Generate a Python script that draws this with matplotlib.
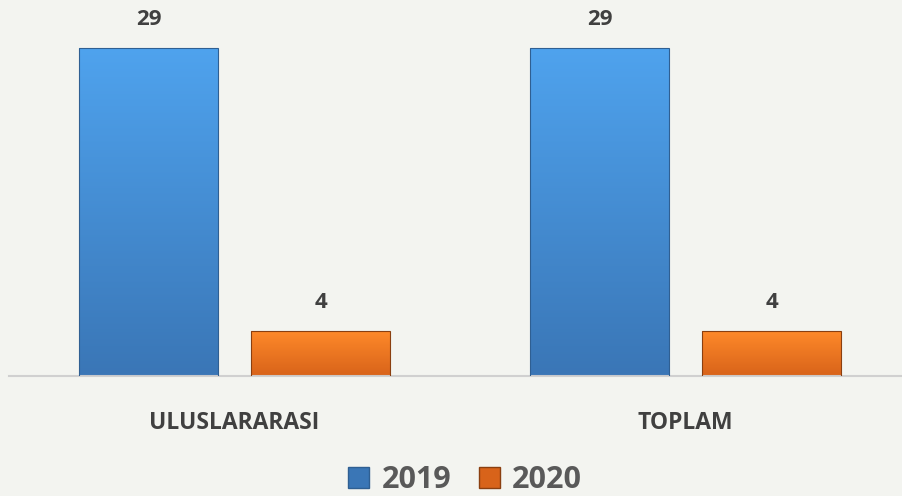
import numpy as np
import matplotlib
matplotlib.use('Agg')
import matplotlib.pyplot as plt
from matplotlib.patches import Patch
from matplotlib.colors import LinearSegmentedColormap

# chart data
categories = ['ULUSLARARASI', 'TOPLAM']
years = ['2019', '2020']
values_2019 = [29, 29]
values_2020 = [4, 4]

plt.rcParams['font.family'] = ['Open Sans', 'DejaVu Sans']

bg = '#f3f4f0'
text_color = '#404040'
fills = {'2019': ('#4fa3ee', '#3a76b6', '#2f5f92'),
         '2020': ('#ff8a2a', '#d8631a', '#8a3f10')}

fig = plt.figure(figsize=(9.03, 4.96), dpi=100, facecolor=bg)
ax = fig.add_axes([0.01, 0.2419, 0.99, 0.7581])
ax.set_facecolor(bg)

x = np.arange(len(categories))
width = 0.308
offset = 0.1907

def gradient_bars(bars, top, bottom):
    cmap = LinearSegmentedColormap.from_list('g', [bottom, top])
    grad = np.linspace(0, 1, 256).reshape(-1, 1)
    for b in bars:
        x0, y0 = b.get_x(), b.get_y()
        im = ax.imshow(grad, cmap=cmap, origin='lower', aspect='auto',
                       extent=[x0, x0 + b.get_width(), y0, y0 + b.get_height()],
                       zorder=2.5)
        im.set_clip_path(b)

bars1 = ax.bar(x - offset, values_2019, width, color=fills['2019'][1],
               edgecolor=fills['2019'][2], linewidth=0.8, zorder=2)
bars2 = ax.bar(x + offset, values_2020, width, color=fills['2020'][1],
               edgecolor=fills['2020'][2], linewidth=0.8, zorder=2)
gradient_bars(bars1, fills['2019'][0], fills['2019'][1])
gradient_bars(bars2, fills['2020'][0], fills['2020'][1])
for b in list(bars1) + list(bars2):
    b.set_zorder(3)
    b.set_facecolor('none')

for bars, vals in [(bars1, values_2019), (bars2, values_2020)]:
    for b, v in zip(bars, vals):
        ax.text(b.get_x() + b.get_width() / 2, v + 1.55, str(v), ha='center',
                va='bottom', fontsize=16, fontweight='bold', color=text_color)

ax.set_xlim(-0.5, 1.482)
ax.set_ylim(0, 33.2)
ax.set_yticks([])
ax.set_xticks(x)
ax.set_xticklabels(categories, fontsize=16.5, fontweight='bold', color=text_color)
ax.tick_params(axis='x', length=0, pad=25)
for s in ['top', 'right', 'left']:
    ax.spines[s].set_visible(False)
ax.spines['bottom'].set_color('#d0d0d0')
ax.spines['bottom'].set_linewidth(1.5)

handles = [Patch(facecolor=fills[y][1], edgecolor=fills[y][2], label=y) for y in years]
leg = fig.legend(handles=handles, loc='center', bbox_to_anchor=(0.515, 0.032),
                 ncol=2, frameon=False, handlelength=0.7, handleheight=0.7,
                 handletextpad=0.4, columnspacing=0.9,
                 prop={'size': 22, 'weight': 'bold'})
for t in leg.get_texts():
    t.set_color('#595959')

fig.savefig('out.png', dpi=100, facecolor=bg)
